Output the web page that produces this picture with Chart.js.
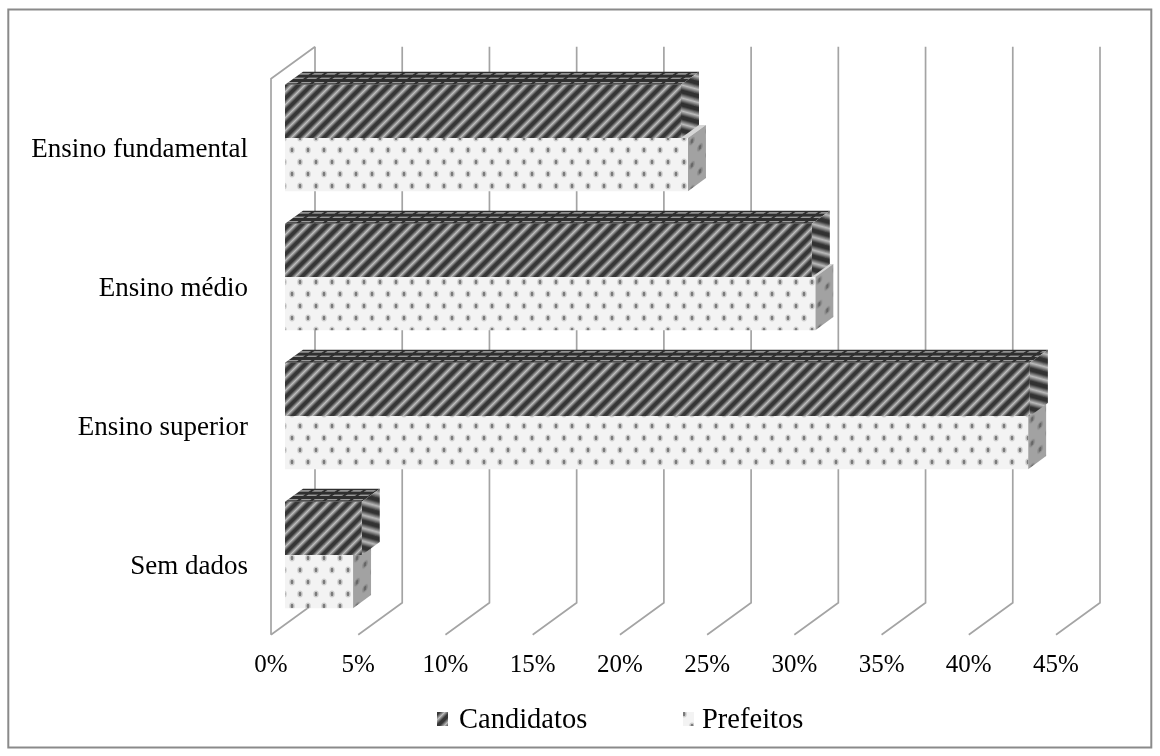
<!DOCTYPE html>
<html>
<head>
<meta charset="utf-8">
<script src="https://cdn.jsdelivr.net/npm/chart.js@4/dist/chart.umd.min.js"></script>
<style>
  html, body { margin: 0; padding: 0; background: #ffffff; }
  #wrap { width: 1160px; height: 756px; position: relative; }
</style>
</head>
<body>
<div id="wrap"><canvas id="chart" width="1160" height="756"></canvas></div>
<script>
// Escolaridade: candidatos x prefeitos eleitos (%)
const categories = ['Ensino fundamental', 'Ensino médio', 'Ensino superior', 'Sem dados'];
const candidatos = [22.7, 30.2, 42.7, 4.4];
const prefeitos  = [23.1, 30.4, 42.6, 3.9];
const seriesNames = ['Candidatos', 'Prefeitos'];
const tickValues = [0, 5, 10, 15, 20, 25, 30, 35, 40, 45];

const FONT = '"Liberation Serif", "Times New Roman", serif';

// Oblique projection offsets, relative to the plane of the bar fronts
const FRONT = { dx: -14, dy: 10.2 };   // front edge of the floor / left wall
const BACK  = { dx: 30,  dy: -21.8 };  // back wall
const DEPTH = { dx: 18,  dy: -13.1 };  // thickness of each bar

function makeTile(w, h, draw) {
  const c = document.createElement('canvas');
  c.width = w; c.height = h;
  draw(c.getContext('2d'), w, h);
  return c;
}
const tmpCtx = document.createElement('canvas').getContext('2d');
function pattern(tile) { return tmpCtx.createPattern(tile, 'repeat'); }

// Dark diagonal stripes
function stripeTile(base, mirror) {
  return makeTile(13, 13, (g, w, h) => {
    g.fillStyle = base; g.fillRect(0, 0, w, h);
    g.lineCap = 'butt';
    const layers = [[6, '#555555'], [4.2, '#7d7d7d'], [2.4, '#a2a2a2'], [1, '#bdbdbd']];
    for (const [lw, col] of layers) {
      g.strokeStyle = col; g.lineWidth = lw;
      for (const c of [0, 13, 26]) {
        g.beginPath();
        if (!mirror) { g.moveTo(c + 3, -3); g.lineTo(-3, c + 3); }
        else { g.moveTo(w - c - 3, -3); g.lineTo(w + 3, c + 3); }
        g.stroke();
      }
    }
  });
}
// Dashed rows for the top of the dark bars
const topTile = makeTile(13, 6, (g, w, h) => {
  g.fillStyle = '#2f2f2f'; g.fillRect(0, 0, w, h);
  g.fillStyle = '#8a8a8a'; g.fillRect(0, 2, 10, 2);
  g.fillStyle = '#aaaaaa'; g.fillRect(1, 2.5, 8, 1);
});
// Light dotted fill
function dotTile(bg, dot, halo) {
  return makeTile(16, 24, (g, w, h) => {
    g.fillStyle = bg; g.fillRect(0, 0, w, h);
    const pts = [[4, 6], [12, 18]];
    for (const [x, y] of pts) {
      g.fillStyle = halo;
      g.beginPath(); g.ellipse(x, y, 2.8, 3.6, 0, 0, Math.PI * 2); g.fill();
      g.fillStyle = dot;
      g.beginPath(); g.ellipse(x, y, 1.4, 2.2, 0, 0, Math.PI * 2); g.fill();
    }
  });
}

const faces = {
  Candidatos: {
    front: pattern(stripeTile('#363636', false)),
    top: pattern(topTile),
    side: pattern(stripeTile('#313131', true))
  },
  Prefeitos: {
    front: pattern(dotTile('#f3f3f3', '#7a7a7a', '#cfcfcf')),
    top: '#d6d6d6',
    side: pattern(dotTile('#a2a2a2', '#666666', '#8c8c8c'))
  }
};

// Draws the 3D box: border, walls, floor and text
const box3d = {
  id: 'box3d',
  beforeDatasetsDraw(chart) {
    const { ctx, chartArea: a } = chart;
    const xs = chart.scales.x, ys = chart.scales.y;
    ctx.save();
    // outer frame
    ctx.strokeStyle = '#8a8a8a'; ctx.lineWidth = 2;
    ctx.strokeRect(8.3, 9.5, 1143, 738);

    // back wall verticals + floor diagonals
    ctx.strokeStyle = '#a4a4a4'; ctx.lineWidth = 1.7; ctx.lineJoin = 'miter';
    for (const t of xs.ticks) {
      const px = xs.getPixelForValue(t.value);
      ctx.beginPath();
      ctx.moveTo(px + BACK.dx, a.top + BACK.dy);
      ctx.lineTo(px + BACK.dx, a.bottom + BACK.dy);
      ctx.lineTo(px + FRONT.dx, a.bottom + FRONT.dy);
      ctx.stroke();
    }
    // left wall
    const x0 = xs.getPixelForValue(0);
    ctx.beginPath();
    ctx.moveTo(x0 + BACK.dx, a.top + BACK.dy);
    ctx.lineTo(x0 + FRONT.dx, a.top + FRONT.dy);
    ctx.lineTo(x0 + FRONT.dx, a.bottom + FRONT.dy);
    ctx.stroke();

    // value axis labels, on the front edge of the floor
    ctx.fillStyle = '#000000';
    ctx.font = '25px ' + FONT;
    ctx.textAlign = 'center'; ctx.textBaseline = 'alphabetic';
    for (const t of xs.ticks) {
      const px = xs.getPixelForValue(t.value) + FRONT.dx;
      ctx.fillText(t.value + '%', px, 672);
    }
    // category labels
    ctx.font = '27px ' + FONT;
    ctx.textAlign = 'right';
    categories.forEach((c, i) => {
      const py = ys.getPixelForValue(i) + FRONT.dy;
      ctx.fillText(c, 248, py + 9);
    });

    // legend
    ctx.font = '28.5px ' + FONT;
    ctx.textAlign = 'left';
    const legendItems = [
      { name: seriesNames[0], x: 437, tx: 459 },
      { name: seriesNames[1], x: 683, tx: 702 }
    ];
    legendItems.forEach(it => {
      ctx.save();
      ctx.fillStyle = faces[it.name].front;
      ctx.fillRect(it.x, 712, 11, 14);
      ctx.restore();
      ctx.fillText(it.name, it.tx, 728);
    });
    ctx.restore();
  },
  // top and side faces go under each dataset's front faces
  beforeDatasetDraw(chart, args) {
    const { ctx } = chart;
    const meta = args.meta;
    const f = faces[chart.data.datasets[args.index].label];
    const D = DEPTH.dx, k = DEPTH.dy / DEPTH.dx;
    ctx.save();
    meta.data.forEach(el => {
      const p = el.getProps(['x', 'y', 'base', 'height'], true);
      const top = p.y - p.height / 2;
      const L = Math.min(p.base, p.x), R = Math.max(p.base, p.x);
      // top face
      ctx.save();
      ctx.transform(1, 0, 1, k, L, top);
      ctx.fillStyle = f.top;
      ctx.fillRect(0, 0, R - L, D);
      ctx.restore();
      // side face
      ctx.save();
      ctx.transform(1, k, 0, 1, R, top);
      ctx.fillStyle = f.side;
      ctx.fillRect(0, 0, D, p.height);
      ctx.restore();
    });
    ctx.restore();
  }
};

new Chart(document.getElementById('chart'), {
  type: 'bar',
  data: {
    labels: categories,
    datasets: [
      { label: seriesNames[0], data: candidatos, backgroundColor: faces.Candidatos.front, borderWidth: 0 },
      { label: seriesNames[1], data: prefeitos, backgroundColor: faces.Prefeitos.front, borderWidth: 0 }
    ]
  },
  options: {
    indexAxis: 'y',
    responsive: false,
    animation: false,
    devicePixelRatio: 1,
    layout: { padding: { left: 285, right: 90, top: 68.5, bottom: 131.5 } },
    datasets: { bar: { categoryPercentage: 0.765, barPercentage: 1.0 } },
    plugins: { legend: { display: false }, tooltip: { enabled: false }, title: { display: false } },
    scales: {
      x: { type: 'linear', min: tickValues[0], max: tickValues[tickValues.length - 1],
           ticks: { stepSize: tickValues[1] - tickValues[0] }, display: false },
      y: { type: 'category', display: false }
    }
  },
  plugins: [box3d]
});
</script>
</body>
</html>
